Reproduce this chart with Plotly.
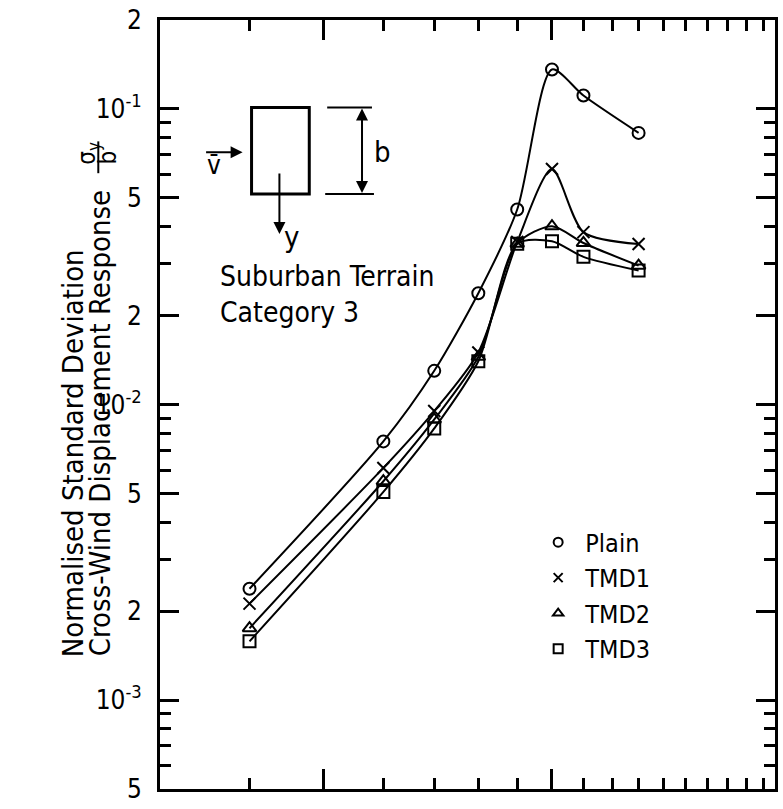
import plotly.graph_objects as go

# ---- data ----
x_vals = [4, 6, 7, 8, 9, 10, 11, 13]
plain = [2.38e-3, 7.5e-3, 1.30e-2, 2.38e-2, 4.57e-2, 0.136, 0.111, 0.083]
tmd1 = [2.12e-3, 6.1e-3, 9.5e-3, 1.50e-2, 3.55e-2, 6.26e-2, 3.83e-2, 3.49e-2]
tmd2 = [1.75e-3, 5.5e-3, 8.9e-3, 1.45e-2, 3.5e-2, 4.01e-2, 3.52e-2, 2.95e-2]
tmd3 = [1.58e-3, 5.06e-3, 8.3e-3, 1.40e-2, 3.5e-2, 3.57e-2, 3.16e-2, 2.84e-2]
series_names = ["Plain", "TMD1", "TMD2", "TMD3"]
series_symbols = ["circle-open", "x-thin-open", "triangle-up-open", "square-open"]

y_major = [5e-4, 1e-3, 2e-3, 5e-3, 1e-2, 2e-2, 5e-2, 1e-1, 2e-1]
y_major_text = ["5", "10<sup>-3</sup>", "2", "5", "10<sup>-2</sup>", "2", "5", "10<sup>-1</sup>", "2"]
y_minor = [6e-4, 7e-4, 8e-4, 9e-4, 3e-3, 4e-3, 6e-3, 7e-3, 8e-3, 9e-3,
           3e-2, 4e-2, 6e-2, 7e-2, 8e-2, 9e-2]
x_major = [5, 10]
x_minor = [4, 6, 7, 8, 9, 11, 12, 13, 14, 15, 16, 17, 18, 19]

FONT = "DejaVu Sans Condensed, Liberation Sans Narrow, DejaVu Sans, sans-serif"

# plot-area geometry in pixels
W, H = 783, 809
L, R, T, B = 160, 778, 20, 793


def px(xp):
    return (xp - L) / (R - L)


def py(yp):
    return (B - yp) / (B - T)


fig = go.Figure()
for name, ys, sym in zip(series_names, [plain, tmd1, tmd2, tmd3], series_symbols):
    fig.add_trace(go.Scatter(
        x=x_vals, y=ys, mode="lines+markers", name=name, showlegend=False,
        line=dict(color="black", width=2, shape="spline", smoothing=0.75),
        marker=dict(symbol=sym, size=12, color="black", line=dict(width=2, color="black")),
    ))
# legend entries (markers only)
for name, sym in zip(series_names, series_symbols):
    fig.add_trace(go.Scatter(
        x=[None], y=[None], mode="markers", name="\u00a0" + name, legendgroup=name,
        marker=dict(symbol=sym, size=9, color="black", line=dict(width=2, color="black")),
    ))

fig.update_layout(
    width=W, height=H,
    margin=dict(l=L, r=W - R, t=T, b=H - B, pad=0),
    paper_bgcolor="white", plot_bgcolor="white",
    font=dict(family=FONT, size=26, color="black"),
    legend=dict(x=px(540), y=py(522), xanchor="left", yanchor="top",
                bgcolor="rgba(0,0,0,0)", font=dict(size=25), tracegroupgap=0,
                itemwidth=30),
)

fig.update_xaxes(
    type="log", range=[0.4843, 1.2934],
    showline=True, linewidth=3, linecolor="black", mirror="ticks",
    showgrid=False, zeroline=False, showticklabels=False,
    tickmode="array", tickvals=x_major, ticks="inside", ticklen=20, tickwidth=2.5, tickcolor="black",
    minor=dict(tickmode="array", tickvals=x_minor, ticks="inside", ticklen=11, tickwidth=2.5,
               tickcolor="black", showgrid=False),
)
fig.update_yaxes(
    type="log", range=[-3.30103, -0.69897],
    showline=True, linewidth=3, linecolor="black", mirror="ticks",
    showgrid=False, zeroline=False,
    tickmode="array", tickvals=y_major, ticktext=y_major_text,
    ticks="inside", ticklen=19, tickwidth=2.5, tickcolor="black",
    ticklabelstandoff=10, tickfont=dict(size=26),
    minor=dict(tickmode="array", tickvals=y_minor, ticks="inside", ticklen=11, tickwidth=2.5,
               tickcolor="black", showgrid=False),
)

C = dict(xref="paper", yref="paper", xanchor="center", yanchor="middle", showarrow=False)
ann = []
# y-axis titles (rotated)
ann.append(dict(x=px(72), y=py(455), text="Normalised Standard Deviation",
                textangle=-90, font=dict(size=29), **C))
ann.append(dict(x=px(100), y=py(425), text="Cross-Wind Displacement Response",
                textangle=-90, font=dict(size=29), **C))
ann.append(dict(x=px(88), y=py(154), text="σ<sub>y</sub>",
                textangle=-90, font=dict(size=24), **C))
ann.append(dict(x=px(108), y=py(158), text="b",
                textangle=-90, font=dict(size=24), **C))
# inset texts
ann.append(dict(x=px(218), y=py(296), xref="paper", yref="paper",
                text="Suburban Terrain<br>Category 3", align="left",
                xanchor="left", yanchor="middle", showarrow=False, font=dict(size=28)))
ann.append(dict(x=px(214), y=py(166), text="v\u0304", font=dict(size=26), **C))
ann.append(dict(x=px(384), y=py(153), text="b", font=dict(size=29), **C))
ann.append(dict(x=px(292), y=py(238), text="y", font=dict(size=29), **C))
# arrows
arrow_style = dict(xref="paper", yref="paper", text="", showarrow=True, arrowhead=2,
                   arrowsize=1.2, arrowwidth=2, arrowcolor="black", axref="pixel", ayref="pixel")
ann.append(dict(x=px(243), y=py(153), ax=-38, ay=0, **arrow_style))
ann.append(dict(x=px(280), y=py(235), ax=0, ay=-62, **arrow_style))
ann.append(dict(x=px(363), y=py(109), ax=0, ay=44, **arrow_style))
ann.append(dict(x=px(363), y=py(194), ax=0, ay=-44, **arrow_style))
fig.update_layout(annotations=ann)

shapes = [
    dict(type="rect", xref="paper", yref="paper", x0=px(252), x1=px(310), y0=py(108), y1=py(195),
         line=dict(color="black", width=3)),
    dict(type="line", xref="paper", yref="paper", x0=px(328), x1=px(373), y0=py(108), y1=py(108),
         line=dict(color="black", width=2)),
    dict(type="line", xref="paper", yref="paper", x0=px(326), x1=px(375), y0=py(195), y1=py(195),
         line=dict(color="black", width=2)),
    dict(type="line", xref="paper", yref="paper", x0=px(98), x1=px(98), y0=py(142), y1=py(174),
         line=dict(color="black", width=2)),
]
fig.update_layout(shapes=shapes)

fig.write_html("out.html")
